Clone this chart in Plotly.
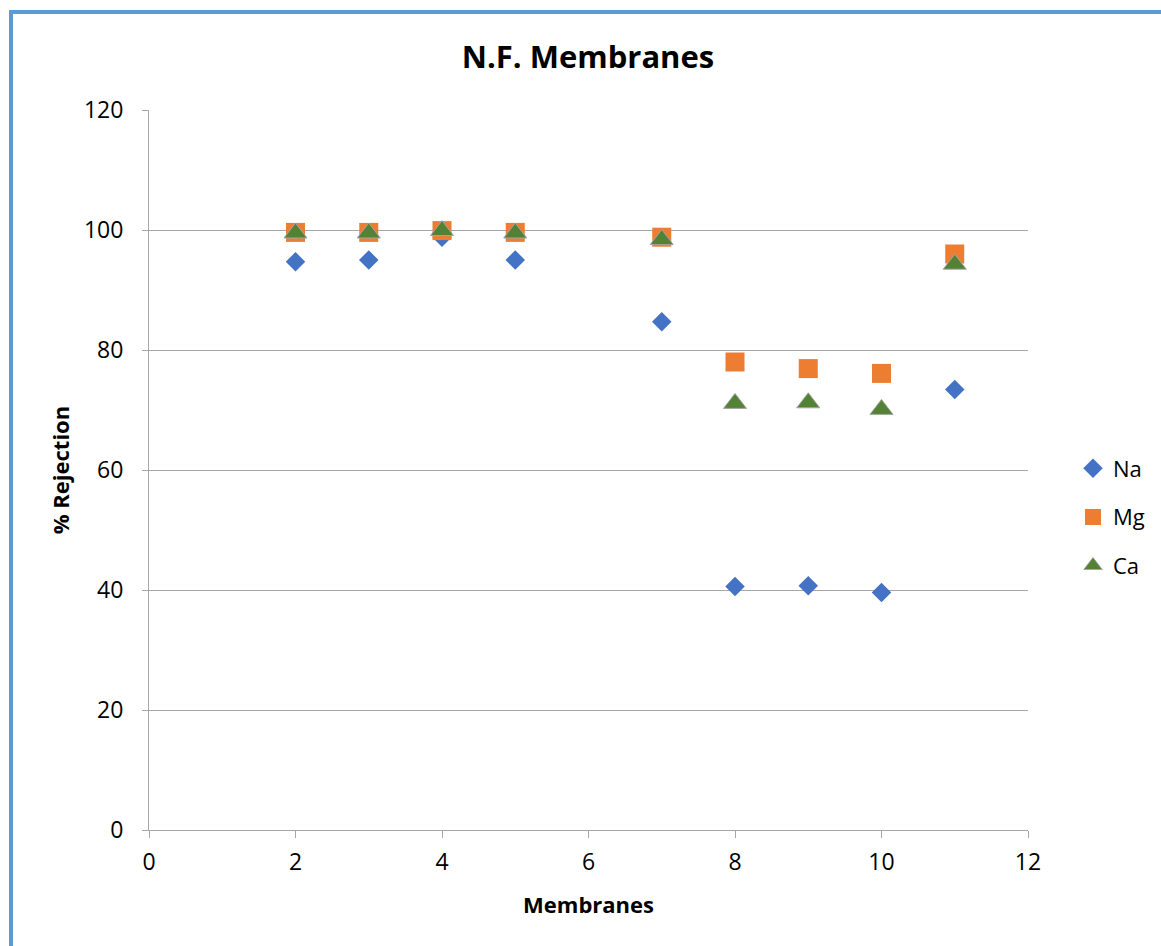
import plotly.graph_objects as go

# Membrane numbers and % rejection for each ion
membranes = [2, 3, 4, 5, 7, 8, 9, 10, 11]
na_rejection = [94.7, 95.0, 98.8, 95.0, 84.7, 40.6, 40.7, 39.6, 73.4]
mg_rejection = [99.6, 99.6, 99.9, 99.6, 98.8, 78.0, 76.9, 76.1, 96.0]
ca_rejection = [99.5, 99.5, 99.9, 99.5, 98.4, 71.1, 71.2, 70.1, 94.3]

x_ticks = [0, 2, 4, 6, 8, 10, 12]
y_ticks = [0, 20, 40, 60, 80, 100, 120]

FONT = "Open Sans"
GRID = "#A6A6A6"

fig = go.Figure()
fig.add_trace(go.Scatter(
    x=membranes, y=na_rejection, mode="markers", name="Na", legendgroup="na",
    marker=dict(symbol="diamond", size=15, color="#4472C4", line=dict(width=0)),
))
fig.add_trace(go.Scatter(
    x=membranes, y=mg_rejection, mode="markers", name="Mg", legendgroup="mg",
    marker=dict(symbol="square", size=19, color="#ED7D31", line=dict(width=0)),
))
fig.add_trace(go.Scatter(
    x=membranes, y=ca_rejection, mode="markers", name="Ca", legendgroup="ca",
    marker=dict(symbol="triangle-up", size=20, color="#548235",
                line=dict(width=1, color="#A5A5A5")),
))

fig.update_layout(
    width=1161, height=946,
    margin=dict(l=149, r=133, t=110, b=116, autoexpand=False),
    paper_bgcolor="white", plot_bgcolor="white",
    font=dict(family=FONT, color="#000000"),
    title=dict(text="<b>N.F. Membranes</b>", x=(588 / 1161), xanchor="center",
               y=1 - 57 / 946, yanchor="middle",
               font=dict(family=FONT, size=31, color="#000000")),
    xaxis=dict(
        range=[0, 12], tickvals=x_ticks, ticktext=[str(v) for v in x_ticks],
        showgrid=False, zeroline=False,
        showline=True, linecolor=GRID, linewidth=1,
        ticks="outside", ticklen=7, tickcolor=GRID, tickwidth=1,
        tickfont=dict(family=FONT, size=23), ticklabelstandoff=4,
        title=dict(text="<b>Membranes</b>", font=dict(family=FONT, size=22), standoff=22),
    ),
    yaxis=dict(
        range=[0, 120], tickvals=y_ticks, ticktext=[str(v) for v in y_ticks],
        showgrid=True, gridcolor=GRID, gridwidth=1, zeroline=False,
        showline=True, linecolor=GRID, linewidth=1,
        ticks="outside", ticklen=6, tickcolor=GRID, tickwidth=1,
        tickfont=dict(family=FONT, size=23), ticklabelstandoff=14,
        title=dict(text="<b>% Rejection</b>", font=dict(family=FONT, size=22), standoff=8),
    ),
    legend=dict(
        xref="container", yref="container",
        x=1073 / 1161, y=1 - 517 / 946, xanchor="left", yanchor="middle",
        font=dict(family=FONT, size=22), tracegroupgap=17,
        itemwidth=30, bgcolor="rgba(0,0,0,0)",
    ),
    shapes=[dict(
        type="rect", xref="paper", yref="paper",
        x0=(11 - 149) / 879, x1=(1175 - 149) / 879,
        y0=(830 - 960) / 720, y1=(830 - 12) / 720,
        line=dict(color="#5B9BD5", width=4), fillcolor="rgba(0,0,0,0)", layer="below",
    )],
)

fig.write_html("out.html")
